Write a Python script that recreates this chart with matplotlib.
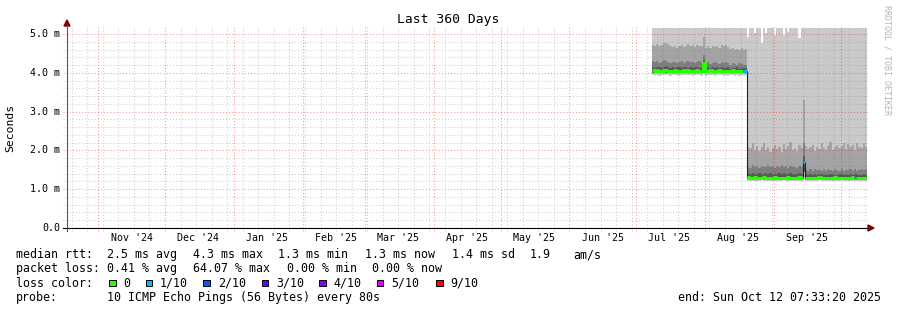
import matplotlib
matplotlib.use('Agg')
import matplotlib.pyplot as plt
import matplotlib.dates as mdates
import matplotlib.transforms as mtrans
from matplotlib.patches import Rectangle, Polygon
import numpy as np
import pandas as pd

W, H = 897, 310
MONO = 'DejaVu Sans Mono'

# graph spans 360 days
t_start = pd.Timestamp('2024-10-17 22:00')
t_end = t_start + pd.Timedelta(days=360)

# ---------------------------------------------------------------
# smoke data (ms), one value per day
# segment A: Jul 8 .. Aug 19, segment B: Aug 20 .. Oct 12
# ---------------------------------------------------------------
days_a = pd.date_range('2025-07-08', '2025-08-19', freq='D')
days_b = pd.date_range('2025-08-20', '2025-10-12', freq='D')

p10_a = [5.30, 5.30, 5.30, 5.30, 5.30, 5.30, 5.30, 5.30, 5.30, 5.30, 5.30, 5.30,
         5.30, 5.30, 5.30, 5.30, 5.30, 5.30, 5.30, 5.30, 5.30, 5.30, 5.30, 5.30,
         5.30, 5.30, 5.30, 5.30, 5.30, 5.30, 5.30, 5.30, 5.30, 5.30, 5.30, 5.30,
         5.30, 5.30, 5.30, 5.30, 5.30, 5.30, 5.30]
p9_a = [4.72, 4.70, 4.74, 4.68, 4.71, 4.76, 4.77, 4.73, 4.69, 4.66, 4.70, 4.64,
        4.68, 4.72, 4.67, 4.70, 4.74, 4.69, 4.71, 4.66, 4.72, 4.68, 4.70, 4.93,
        4.65, 4.68, 4.63, 4.70, 4.66, 4.69, 4.64, 4.71, 4.68, 4.72, 4.66, 4.61,
        4.64, 4.60, 4.62, 4.58, 4.63, 4.59, 4.61]
p8_a = [4.30, 4.27, 4.31, 4.26, 4.29, 4.32, 4.30, 4.28, 4.25, 4.27, 4.29, 4.24,
        4.27, 4.30, 4.26, 4.28, 4.31, 4.27, 4.29, 4.25, 4.28, 4.30, 4.26, 4.45,
        4.24, 4.27, 4.23, 4.26, 4.28, 4.25, 4.22, 4.27, 4.25, 4.29, 4.24, 4.21,
        4.26, 4.23, 4.20, 4.24, 4.22, 4.19, 4.21]
p7_a = [4.15, 4.13, 4.16, 4.14, 4.12, 4.15, 4.17, 4.14, 4.13, 4.15, 4.12, 4.14,
        4.16, 4.13, 4.15, 4.14, 4.12, 4.15, 4.13, 4.14, 4.16, 4.13, 4.14, 4.33,
        4.13, 4.15, 4.12, 4.14, 4.13, 4.15, 4.12, 4.14, 4.13, 4.12, 4.14, 4.11,
        4.13, 4.12, 4.14, 4.11, 4.12, 4.13, 4.12]
med_a = [4.06, 4.05, 4.06, 4.04, 4.05, 4.07, 4.06, 4.05, 4.04, 4.05, 4.06, 4.05,
         4.04, 4.05, 4.06, 4.05, 4.07, 4.05, 4.04, 4.05, 4.06, 4.05, 4.04, 4.25,
         4.04, 4.05, 4.06, 4.05, 4.04, 4.05, 4.06, 4.05, 4.04, 4.05, 4.04, 4.05,
         4.06, 4.04, 4.05, 4.04, 4.05, 4.04, 4.05]
p4_a = [4.00, 4.00, 4.01, 3.99, 4.00, 4.01, 4.00, 4.00, 3.99, 4.00, 4.01, 4.00,
        3.99, 4.00, 4.01, 4.00, 4.01, 4.00, 3.99, 4.00, 4.01, 4.00, 3.99, 4.15,
        3.99, 4.00, 4.01, 4.00, 3.99, 4.00, 4.01, 4.00, 3.99, 4.00, 3.99, 4.00,
        4.01, 3.99, 4.00, 3.99, 4.00, 3.99, 4.00]
p1_a = [3.94, 3.95, 3.94, 3.93, 3.94, 3.95, 3.94, 3.94, 3.93, 3.94, 3.95, 3.94,
        3.93, 3.94, 3.95, 3.94, 3.95, 3.94, 3.93, 3.94, 3.95, 3.94, 3.93, 4.08,
        3.93, 3.94, 3.95, 3.94, 3.93, 3.94, 3.95, 3.94, 3.93, 3.94, 3.93, 3.94,
        3.95, 3.93, 3.94, 3.93, 3.94, 3.93, 3.94]
loss_a = [0, 0, 0, 0, 0, 0, 0, 0, 0, 0, 0, 0, 0, 0, 0, 0, 0, 0, 0, 0, 0, 0,
          0, 0, 0, 0, 0, 0, 0, 0, 0, 0, 0, 0, 0, 0, 0, 0, 0, 0, 0, 1, 1]

p10_b = [4.93, 5.30, 5.30, 5.03, 5.30, 5.30, 4.77, 5.30, 5.02, 5.30, 5.30, 5.30,
         4.98, 5.30, 5.30, 5.30, 4.97, 5.30, 5.05, 5.30, 5.30, 5.30, 5.30, 4.90,
         5.30, 5.30, 5.30, 5.30, 5.30, 5.30, 5.30, 5.30, 5.30, 5.30, 5.30, 5.30,
         5.30, 5.30, 5.30, 5.30, 5.30, 5.30, 5.30, 5.30, 5.30, 5.30, 5.30, 5.30,
         5.30, 5.30, 5.30, 5.30, 5.30, 5.30]
p9_b = [2.10, 2.05, 2.18, 2.00, 2.12, 1.98, 2.08, 2.20, 2.02, 2.10, 1.96, 2.06,
        2.14, 2.03, 2.09, 1.97, 2.16, 2.04, 2.11, 2.22, 2.00, 2.07, 1.99, 2.13,
        2.05, 3.30, 2.12, 2.04, 2.08, 2.15, 1.98, 2.10, 2.03, 2.18, 2.06, 2.00,
        2.11, 2.21, 2.02, 2.09, 2.14, 2.05, 2.12, 2.20, 2.04, 2.16, 2.08, 2.13,
        2.01, 2.18, 2.10, 2.06, 2.19, 2.09]
p8_b = [1.60, 1.55, 1.62, 1.57, 1.59, 1.54, 1.61, 1.58, 1.56, 1.63, 1.57, 1.59,
        1.55, 1.60, 1.58, 1.62, 1.56, 1.59, 1.54, 1.61, 1.57, 1.58, 1.55, 1.60,
        1.57, 2.20, 1.52, 1.48, 1.51, 1.47, 1.53, 1.49, 1.50, 1.46, 1.52, 1.48,
        1.51, 1.49, 1.47, 1.53, 1.50, 1.48, 1.52, 1.46, 1.50, 1.49, 1.51, 1.47,
        1.53, 1.48, 1.50, 1.52, 1.49, 1.51]
p7_b = [1.41, 1.39, 1.42, 1.40, 1.38, 1.41, 1.40, 1.39, 1.42, 1.40, 1.41, 1.38,
        1.40, 1.39, 1.41, 1.40, 1.42, 1.39, 1.40, 1.41, 1.38, 1.40, 1.39, 1.41,
        1.40, 1.85, 1.38, 1.37, 1.39, 1.36, 1.38, 1.37, 1.39, 1.38, 1.36, 1.38,
        1.37, 1.39, 1.38, 1.37, 1.36, 1.38, 1.39, 1.37, 1.38, 1.36, 1.38, 1.37,
        1.39, 1.38, 1.37, 1.36, 1.38, 1.37]
med_b = [1.31, 1.30, 1.30, 1.31, 1.30, 1.29, 1.30, 1.31, 1.30, 1.30, 1.29, 1.30,
         1.31, 1.30, 1.30, 1.29, 1.30, 1.30, 1.31, 1.30, 1.29, 1.30, 1.30, 1.31,
         1.30, 1.70, 1.30, 1.29, 1.30, 1.30, 1.29, 1.30, 1.31, 1.30, 1.29, 1.30,
         1.30, 1.29, 1.30, 1.31, 1.30, 1.29, 1.30, 1.30, 1.29, 1.30, 1.30, 1.31,
         1.30, 1.29, 1.30, 1.30, 1.29, 1.30]
p4_b = [1.27, 1.27, 1.26, 1.27, 1.28, 1.27, 1.26, 1.27, 1.27, 1.28, 1.26, 1.27,
        1.27, 1.26, 1.27, 1.28, 1.27, 1.26, 1.27, 1.27, 1.26, 1.27, 1.28, 1.27,
        1.27, 1.45, 1.27, 1.26, 1.27, 1.27, 1.26, 1.27, 1.28, 1.27, 1.26, 1.27,
        1.27, 1.26, 1.27, 1.28, 1.27, 1.26, 1.27, 1.27, 1.26, 1.27, 1.27, 1.28,
        1.27, 1.26, 1.27, 1.27, 1.26, 1.27]
p1_b = [1.22, 1.21, 1.22, 1.22, 1.21, 1.22, 1.23, 1.22, 1.21, 1.22, 1.22, 1.21,
        1.22, 1.22, 1.21, 1.22, 1.23, 1.22, 1.21, 1.22, 1.22, 1.21, 1.22, 1.22,
        1.21, 1.30, 1.22, 1.21, 1.22, 1.22, 1.21, 1.22, 1.23, 1.22, 1.21, 1.22,
        1.22, 1.21, 1.22, 1.22, 1.21, 1.22, 1.23, 1.22, 1.21, 1.22, 1.22, 1.21,
        1.22, 1.22, 1.21, 1.22, 1.22, 1.21]
loss_b = [0, 0, 0, 0, 0, 0, 0, 0, 0, 0, 0, 0, 0, 0, 0, 0, 0, 0, 0, 0, 0, 0,
          0, 0, 0, 1, 0, 0, 0, 0, 0, 0, 0, 0, 0, 0, 0, 0, 0, 0, 0, 0, 0, 0,
          0, 0, 0, 0, 1, 0, 0, 0, 0, 0]

# legend / text
loss_colors = ['#26ff00', '#00b8ff', '#0059ff', '#5e00ff', '#7e00ff', '#dd00ff', '#ff0000']
loss_labels = ['0', '1/10', '2/10', '3/10', '4/10', '5/10', '9/10']
month_labels = ["Nov '24", "Dec '24", "Jan '25", "Feb '25", "Mar '25", "Apr '25",
                "May '25", "Jun '25", "Jul '25", "Aug '25", "Sep '25"]
y_ticks = [0, 1, 2, 3, 4, 5]
y_ticklabels = ['0.0', '1.0 m', '2.0 m', '3.0 m', '4.0 m', '5.0 m']

# ---------------------------------------------------------------
days = days_a.append(days_b)
p10 = np.array(p10_a + p10_b); p9 = np.array(p9_a + p9_b)
p8 = np.array(p8_a + p8_b); p7 = np.array(p7_a + p7_b)
med = np.array(med_a + med_b); p4 = np.array(p4_a + p4_b)
p1 = np.array(p1_a + p1_b); loss = np.array(loss_a + loss_b)

xe = np.append(mdates.date2num(days.to_pydatetime()), mdates.date2num(t_end.to_pydatetime()))
ext = lambda a: np.append(a, a[-1])

fig = plt.figure(figsize=(W / 100, H / 100), dpi=100)
fig.patch.set_facecolor('white')
ax = fig.add_axes([67 / W, 82 / H, 800 / W, 200 / H])
x0, x1 = mdates.date2num(t_start.to_pydatetime()), mdates.date2num(t_end.to_pydatetime())
ax.set_xlim(x0, x1)
ax.set_ylim(0, 200 / 38.8)
ax.axis('off')

# smoke layers
for lo, hi, c in [(p1, p10, '#cacaca'), (p4, p9, '#a4a4a4'), (p4, p8, '#7e7e7e'), (p4, p7, '#585858')]:
    ax.fill_between(xe, ext(lo), ext(hi), step='post', color=c, lw=0, zorder=1)

# grid (drawn over the smoke)
fx = lambda px: px / W
fy = lambda py: 1 - py / H
tr_y = mtrans.blended_transform_factory(fig.transFigure, ax.transData)
tr_x = mtrans.blended_transform_factory(ax.transData, fig.transFigure)
minor_c, major_c = (0.5, 0.5, 0.5, 0.38), (1.0, 0.0, 0.0, 0.42)
dots = (0, (1, 2))
for v in np.arange(0.2, 5.15, 0.2):
    major = abs(v - round(v)) < 1e-6
    ax.plot([fx(63), fx(869)], [v, v], transform=tr_y, color=major_c if major else minor_c,
            ls=dots, lw=0.75, clip_on=False, zorder=1.5)
weeks = pd.date_range(t_start.normalize(), t_end, freq='W-SUN')
months = pd.date_range(t_start.normalize(), t_end, freq='MS')
for d in weeks:
    if d.day == 1 or d < t_start:
        continue
    xv = mdates.date2num(d.to_pydatetime())
    ax.plot([xv, xv], [fy(231), fy(26)], transform=tr_x, color=minor_c, ls=dots, lw=0.75,
            clip_on=False, zorder=1.5)
for d in months:
    xv = mdates.date2num(d.to_pydatetime())
    ax.plot([xv, xv], [fy(231), fy(26)], transform=tr_x, color=major_c, ls=dots, lw=0.75,
            clip_on=False, zorder=1.5)

# median: thin dark line, then thick loss-coloured line
ax.step(xe, ext(med), where='post', color='#202020', lw=0.8, zorder=2)
i = 0
while i < len(med):
    j = i
    while j < len(med) and loss[j] == loss[i]:
        j += 1
    ax.step(xe[i:j + 1], ext(med[i:j]), where='post', color=loss_colors[loss[i]],
            lw=2.2, zorder=3, solid_capstyle='butt')
    i = j

# axes lines and arrows
arrow_c = '#7f0000'
fig.add_artist(plt.Line2D([fx(63), fx(868)], [fy(228), fy(228)], color='black', lw=0.8))
fig.add_artist(plt.Line2D([fx(67), fx(67)], [fy(231), fy(25)], color='#555555', lw=0.8))
fig.add_artist(Polygon([(fx(868), fy(225)), (fx(874), fy(228)), (fx(868), fy(231))],
                       closed=True, color=arrow_c, transform=fig.transFigure))
fig.add_artist(Polygon([(fx(64), fy(26)), (fx(67), fy(20)), (fx(70), fy(26))],
                       closed=True, color=arrow_c, transform=fig.transFigure))

# tick labels
for v, lbl in zip(y_ticks, y_ticklabels):
    ax.text(fx(60), v, lbl, transform=tr_y, ha='right', va='center', fontsize=7.2,
            family=MONO, clip_on=False)
mid_months = pd.date_range('2024-11-01', '2025-09-01', freq='MS') + pd.Timedelta(days=15)
for d, lbl in zip(mid_months, month_labels):
    ax.text(mdates.date2num(d.to_pydatetime()), fy(240.7), lbl, transform=tr_x, ha='center',
            va='baseline', fontsize=7.2, family=MONO, clip_on=False)

# titles
fig.text(fx(448), fy(23.5), 'Last 360 Days', ha='center', va='baseline', fontsize=9.4, family=MONO)
fig.text(fx(10), fy(128), 'Seconds', rotation=90, ha='center', va='center', fontsize=8.2, family=MONO)
fig.text(fx(887), fy(60), 'RRDTOOL / TOBI OETIKER', rotation=270, ha='center', va='center',
         fontsize=6.0, family=MONO, color='#b4b4b4')

# legend
def leg(x, y, s, **kw):
    fig.text(fx(x), fy(y), s, ha='left', va='baseline', fontsize=8.35, family=MONO, **kw)

leg(16, 258, 'median rtt:')
for x, s in [(107.3, '2.5 ms avg'), (192.7, '4.3 ms max'), (278.3, '1.3 ms min'),
             (365, '1.3 ms now'), (451.7, '1.4 ms sd'), (530, '1.9'), (573.3, 'am/s')]:
    leg(x, 258, s)
leg(16, 272.3, 'packet loss:')
for x, s in [(107.3, '0.41 % avg'), (192.7, '64.07 % max'), (286.7, '0.00 % min'),
             (371.7, '0.00 % now')]:
    leg(x, 272.3, s)
leg(16, 286.6, 'loss color:')
sq_x = [109, 145.7, 203.3, 261.7, 319.3, 376.7, 436]
lb_x = [123.3, 160, 218.3, 276, 333.3, 391.7, 450]
for sx, lx, c, s in zip(sq_x, lb_x, loss_colors, loss_labels):
    fig.add_artist(Rectangle((fx(sx), fy(286.3)), 6.7 / W, 6.7 / H, transform=fig.transFigure,
                             facecolor=c, edgecolor='black', lw=0.7))
    leg(lx, 286.6, s)
leg(16, 300.9, 'probe:')
leg(107.3, 300.9, '10 ICMP Echo Pings (56 Bytes) every 80s')
leg(677.7, 300.9, 'end: Sun Oct 12 07:33:20 2025')

fig.savefig('out.png', dpi=100)
